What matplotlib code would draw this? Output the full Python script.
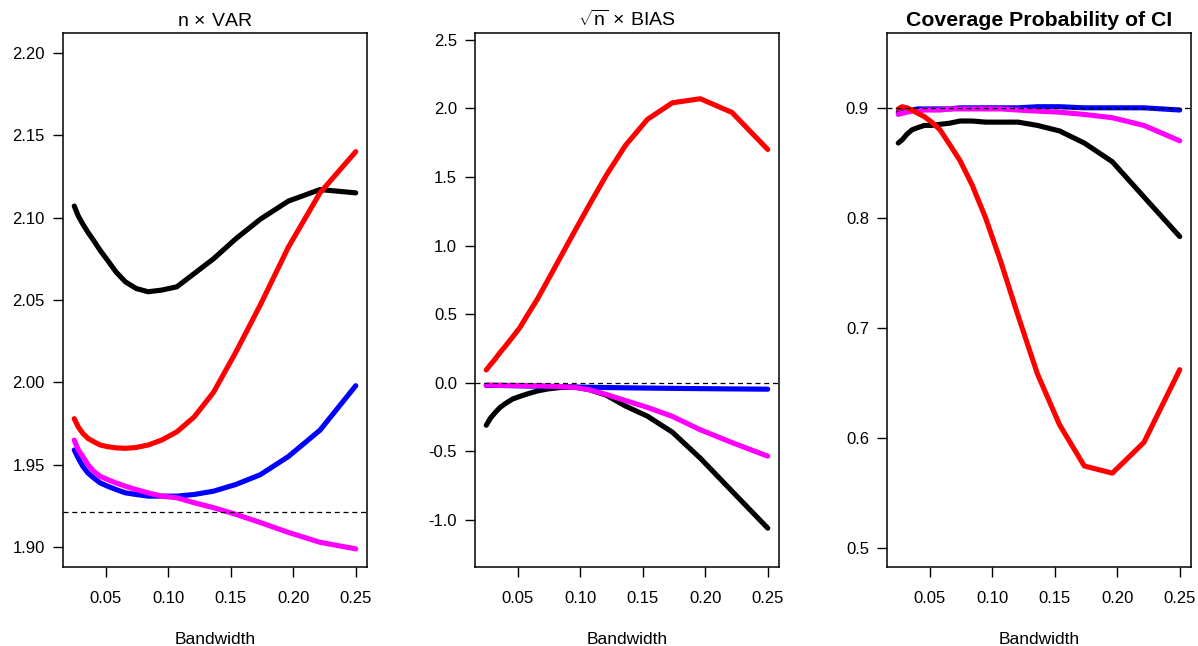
import matplotlib
matplotlib.use("Agg")
import matplotlib.pyplot as plt
from matplotlib.ticker import FormatStrFormatter

plt.rcParams["font.family"] = ["Liberation Sans", "DejaVu Sans"]
plt.rcParams["axes.unicode_minus"] = False
plt.rcParams["mathtext.fontset"] = "custom"
plt.rcParams["mathtext.rm"] = "Liberation Sans"
plt.rcParams["mathtext.it"] = "Liberation Sans"
plt.rcParams["mathtext.bf"] = "Liberation Sans:bold"

# bandwidth grid (log spaced)
bandwidth = [0.0250, 0.0282, 0.0319, 0.0360, 0.0406, 0.0458, 0.0517, 0.0584, 0.0659, 0.0744,
             0.0840, 0.0948, 0.1070, 0.1208, 0.1363, 0.1539, 0.1737, 0.1961, 0.2214, 0.2500]

# n x VAR
var_black = [2.107, 2.101, 2.096, 2.091, 2.086, 2.080, 2.074, 2.067, 2.061, 2.057,
             2.055, 2.056, 2.058, 2.066, 2.075, 2.087, 2.099, 2.110, 2.117, 2.115]
var_blue = [1.959, 1.954, 1.949, 1.945, 1.942, 1.939, 1.937, 1.935, 1.933, 1.932,
            1.931, 1.931, 1.931, 1.932, 1.934, 1.938, 1.944, 1.955, 1.971, 1.998]
var_magenta = [1.965, 1.959, 1.955, 1.950, 1.946, 1.943, 1.941, 1.939, 1.937, 1.935,
               1.933, 1.931, 1.930, 1.927, 1.924, 1.920, 1.915, 1.909, 1.903, 1.899]
var_red = [1.978, 1.973, 1.969, 1.966, 1.964, 1.962, 1.961, 1.9603, 1.960, 1.9605,
           1.962, 1.965, 1.970, 1.979, 1.994, 2.018, 2.047, 2.082, 2.115, 2.140]
var_ref = 1.9216

# sqrt(n) x BIAS
bias_black = [-0.31, -0.26, -0.22, -0.18, -0.15, -0.12, -0.10, -0.08, -0.06, -0.045,
              -0.035, -0.03, -0.05, -0.09, -0.17, -0.244, -0.36, -0.55, -0.79, -1.06]
bias_blue = [-0.020, -0.020, -0.020, -0.020, -0.021, -0.022, -0.023, -0.024, -0.025, -0.027,
             -0.029, -0.031, -0.033, -0.035, -0.037, -0.039, -0.041, -0.043, -0.045, -0.047]
bias_magenta = [-0.017, -0.017, -0.018, -0.018, -0.019, -0.019, -0.020, -0.021, -0.022, -0.024,
                -0.028, -0.033, -0.050, -0.085, -0.130, -0.180, -0.245, -0.343, -0.436, -0.535]
bias_red = [0.093, 0.13, 0.17, 0.22, 0.27, 0.33, 0.40, 0.50, 0.61, 0.75,
            0.91, 1.09, 1.29, 1.51, 1.73, 1.92, 2.04, 2.07, 1.97, 1.70]
bias_ref = 0.0

# coverage probability
cov_black = [0.868, 0.871, 0.876, 0.880, 0.882, 0.884, 0.884, 0.885, 0.886, 0.888,
             0.888, 0.887, 0.887, 0.887, 0.884, 0.879, 0.868, 0.851, 0.819, 0.783]
cov_blue = [0.896, 0.897, 0.898, 0.898, 0.899, 0.899, 0.899, 0.899, 0.899, 0.900,
            0.900, 0.900, 0.900, 0.900, 0.901, 0.901, 0.900, 0.900, 0.900, 0.898]
cov_magenta = [0.894, 0.895, 0.896, 0.897, 0.897, 0.898, 0.898, 0.898, 0.899, 0.899,
               0.899, 0.899, 0.899, 0.898, 0.897, 0.896, 0.894, 0.891, 0.884, 0.870]
cov_red = [0.899, 0.901, 0.900, 0.898, 0.895, 0.892, 0.887, 0.880, 0.867, 0.852,
           0.830, 0.800, 0.760, 0.711, 0.658, 0.612, 0.5745, 0.568, 0.596, 0.662]
cov_ref = 0.9

xticks = [0.05, 0.10, 0.15, 0.20, 0.25]
var_ticks = [1.90, 1.95, 2.00, 2.05, 2.10, 2.15, 2.20]
bias_ticks = [-1.0, -0.5, 0.0, 0.5, 1.0, 1.5, 2.0, 2.5]
cov_ticks = [0.5, 0.6, 0.7, 0.8, 0.9]

fig = plt.figure(figsize=(11.98, 6.46), dpi=100)

panels = [
    (0.05259, r"n$\,\times\,$VAR", "normal", 14, (var_black, var_blue, var_magenta, var_red), var_ref,
     (1.888, 2.212), var_ticks, "%.2f"),
    (0.39649, r"$\sqrt{\mathrm{n}}\,\times\,$BIAS", "normal", 14, (bias_black, bias_blue, bias_magenta, bias_red), bias_ref,
     (-1.343, 2.549), bias_ticks, "%.1f"),
    (0.74040, "Coverage Probability of CI", "bold", 15.3, (cov_black, cov_blue, cov_magenta, cov_red), cov_ref,
     (0.4827, 0.968), cov_ticks, "%.1f"),
]

colors = ["black", "blue", "magenta", "red"]

for left, title, weight, tsize, series, ref, ylim, yt, fmt in panels:
    ax = fig.add_axes([left, 0.12229, 0.25376, 0.82663])
    for ys, c in zip(series, colors):
        ax.plot(bandwidth, ys, color=c, lw=3.7, solid_capstyle="round", solid_joinstyle="round")
    ax.axhline(ref, color="black", lw=0.9, ls=(0, (4, 3)))
    ax.set_xlim(0.016, 0.259)
    ax.set_ylim(*ylim)
    ax.set_xticks(xticks)
    ax.set_yticks(yt)
    ax.xaxis.set_major_formatter(FormatStrFormatter("%.2f"))
    ax.yaxis.set_major_formatter(FormatStrFormatter(fmt))
    ax.tick_params(axis="both", direction="out", length=7, width=1, labelsize=12)
    ax.tick_params(axis="x", pad=10)
    ax.tick_params(axis="y", pad=6)
    for s in ax.spines.values():
        s.set_linewidth(1.1)
    ax.set_title(title, fontsize=tsize, fontweight=weight, pad=5)
    ax.set_xlabel("Bandwidth", fontsize=12.5, labelpad=19)

fig.savefig("out.png", dpi=100)
